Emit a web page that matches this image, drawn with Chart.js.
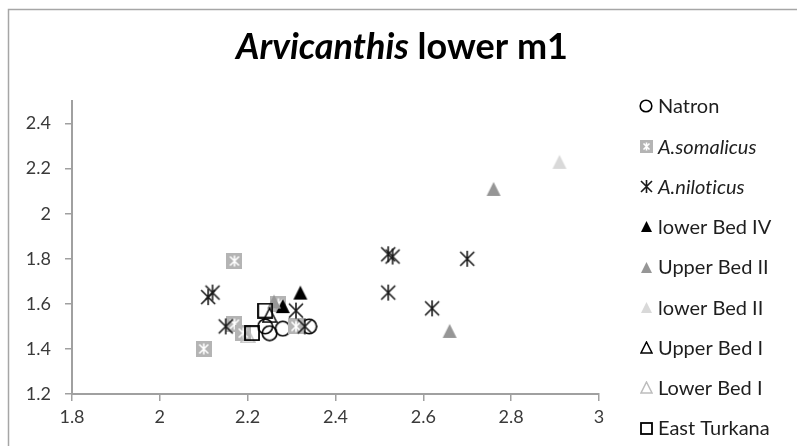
<!DOCTYPE html>
<html>
<head>
<meta charset="utf-8">
<script src="https://cdn.jsdelivr.net/npm/chart.js@4/dist/chart.umd.min.js"></script>
<style>
  html, body { margin: 0; padding: 0; background: #ffffff; }
  canvas { display: block; }
</style>
</head>
<body>
<canvas id="chart" width="797" height="446"></canvas>
<script>
// Lower first molar of Arvicanthis: x / y measurements per sample group
const seriesNames = ['Natron', 'A.somalicus', 'A.niloticus', 'lower Bed IV', 'Upper Bed II',
                     'lower Bed II', 'Upper Bed I', 'Lower Bed I', 'East Turkana'];
const italicNames = ['A.somalicus', 'A.niloticus'];

const natronX       = [2.24, 2.25, 2.28, 2.34];
const natronY       = [1.50, 1.47, 1.49, 1.50];
const somalicusX    = [2.17, 2.10, 2.17, 2.19, 2.27, 2.31];
const somalicusY    = [1.79, 1.40, 1.51, 1.47, 1.60, 1.50];
const niloticusX    = [2.11, 2.12, 2.15, 2.31, 2.33, 2.52, 2.53, 2.70, 2.52, 2.62];
const niloticusY    = [1.63, 1.65, 1.50, 1.57, 1.50, 1.82, 1.81, 1.80, 1.65, 1.58];
const lowerBedIVX   = [2.32, 2.28];
const lowerBedIVY   = [1.65, 1.59];
const upperBedIIX   = [2.76, 2.66, 2.26];
const upperBedIIY   = [2.11, 1.48, 1.61];
const lowerBedIIX   = [2.91];
const lowerBedIIY   = [2.23];
const upperBedIX    = [2.25];
const upperBedIY    = [1.55];
const lowerBedIX    = [2.20];
const lowerBedIY    = [1.46];
const eastTurkanaX  = [2.21, 2.24];
const eastTurkanaY  = [1.47, 1.57];

const xTicks = [1.8, 2, 2.2, 2.4, 2.6, 2.8, 3];
const yTicks = [1.2, 1.4, 1.6, 1.8, 2, 2.2, 2.4];

const FONT = 'Lato, "Open Sans", "Liberation Sans", sans-serif';

// ---- marker images -------------------------------------------------------
function makeCanvas(size) {
  const c = document.createElement('canvas');
  c.width = size; c.height = size;
  return c;
}
function circleMarker(size, stroke) {
  const c = makeCanvas(size), g = c.getContext('2d');
  g.strokeStyle = stroke; g.lineWidth = 1.6;
  g.beginPath(); g.arc(size / 2, size / 2, size / 2 - 1.2, 0, Math.PI * 2); g.stroke();
  return c;
}
function squareMarker(size, stroke) {
  const c = makeCanvas(size), g = c.getContext('2d');
  g.strokeStyle = stroke; g.lineWidth = 1.8;
  g.strokeRect(1, 1, size - 2, size - 2);
  return c;
}
function triangleMarker(size, fill, stroke) {
  const c = makeCanvas(size), g = c.getContext('2d');
  const m = 1;
  g.beginPath();
  g.moveTo(size / 2, m);
  g.lineTo(size - m, size - m);
  g.lineTo(m, size - m);
  g.closePath();
  if (fill) { g.fillStyle = fill; g.fill(); }
  if (stroke) { g.strokeStyle = stroke; g.lineWidth = 1.5; g.lineJoin = 'miter'; g.stroke(); }
  return c;
}
function asteriskLines(g, size, inset) {
  const a = inset, b = size - inset, mid = size / 2;
  g.beginPath();
  g.moveTo(a, a); g.lineTo(b, b);
  g.moveTo(b, a); g.lineTo(a, b);
  g.moveTo(mid, a - 1); g.lineTo(mid, b + 1);
  g.stroke();
}
function asteriskMarker(size, stroke) {
  const c = makeCanvas(size), g = c.getContext('2d');
  g.strokeStyle = stroke; g.lineWidth = 1.6;
  asteriskLines(g, size, 2);
  return c;
}
function boxedAsteriskMarker(size, fill) {
  const c = makeCanvas(size), g = c.getContext('2d');
  g.fillStyle = fill; g.fillRect(0, 0, size, size);
  g.strokeStyle = '#ffffff'; g.lineWidth = 1.6;
  asteriskLines(g, size, 3.5);
  return c;
}

function markerSet(scale) {
  const s = v => Math.round(v * scale);
  return [
    circleMarker(s(17), '#000000'),
    boxedAsteriskMarker(s(16), '#b4b4b4'),
    asteriskMarker(s(18), '#1a1a1a'),
    triangleMarker(s(16), '#000000', null),
    triangleMarker(s(16), '#969696', null),
    triangleMarker(s(16), '#d9d9d9', null),
    triangleMarker(s(16), null, '#000000'),
    triangleMarker(s(16), null, '#bdbdbd'),
    squareMarker(s(16), '#000000')
  ];
}
const plotMarkers = markerSet(1);
const legendMarkers = markerSet(0.82);

const seriesX = [natronX, somalicusX, niloticusX, lowerBedIVX, upperBedIIX,
                 lowerBedIIX, upperBedIX, lowerBedIX, eastTurkanaX];
const seriesY = [natronY, somalicusY, niloticusY, lowerBedIVY, upperBedIIY,
                 lowerBedIIY, upperBedIY, lowerBedIY, eastTurkanaY];

const datasets = seriesNames.map((name, i) => ({
  label: name,
  data: seriesX[i].map((x, k) => ({ x: x, y: seriesY[i][k] })),
  pointStyle: plotMarkers[i],
  pointRadius: 9,
  pointHoverRadius: 9,
  showLine: false,
  order: -i            // later series are painted on top
}));

// ---- frame, title and legend ---------------------------------------------
const decorations = {
  id: 'decorations',
  beforeDraw(chart) {
    const g = chart.ctx;
    g.save();
    g.fillStyle = '#ffffff';
    g.fillRect(0, 0, chart.width, chart.height);
    g.strokeStyle = '#a6a6a6';
    g.lineWidth = 1.5;
    g.beginPath();
    g.moveTo(8.5, chart.height); g.lineTo(8.5, 9.5); g.lineTo(chart.width, 9.5);
    g.stroke();
    g.restore();
  },
  afterDraw(chart) {
    const g = chart.ctx;
    g.save();
    // plain glyphs, no ligatures
    if ('textRendering' in g) g.textRendering = 'optimizeSpeed';
    // title: genus in italics
    const part1 = 'Arvicanthis', part2 = ' lower m1';
    const f1 = 'italic bold 36px ' + FONT, f2 = 'bold 36px ' + FONT;
    g.font = f1; const w1 = g.measureText(part1).width;
    g.font = f2; const w2 = g.measureText(part2).width;
    const tx = 402 - (w1 + w2) / 2;
    const ty = 59;
    g.fillStyle = '#000000';
    g.textBaseline = 'alphabetic';
    g.textAlign = 'left';
    g.font = f1; g.fillText(part1, tx, ty);
    g.font = f2; g.fillText(part2, tx + w1, ty);

    // legend
    g.textBaseline = 'middle';
    g.fillStyle = '#1e1e1e';
    seriesNames.forEach((name, i) => {
      const cy = 106 + i * 40.25;
      const img = legendMarkers[i];
      g.drawImage(img, Math.round(646 - img.width / 2), Math.round(cy - img.height / 2));
      g.font = (italicNames.includes(name) ? 'italic ' : '') + '20px ' + FONT;
      g.fillText(name, 658, cy + 1);
    });
    g.restore();
  }
};

const axisStyle = {
  grid: { drawOnChartArea: false, drawTicks: true, tickLength: 7, color: '#a0a0a0', lineWidth: 1.5 },
  border: { display: true, color: '#a0a0a0', width: 2 },
  ticks: { color: '#3a3a3a', font: { family: FONT, size: 18 } }
};

new Chart(document.getElementById('chart'), {
  type: 'scatter',
  data: { datasets: datasets },
  options: {
    responsive: false,
    animation: false,
    devicePixelRatio: 1,
    layout: { padding: { left: 0, top: 101, right: 198, bottom: 0 } },
    plugins: {
      legend: { display: false },
      title: { display: false },
      tooltip: { enabled: false }
    },
    scales: {
      x: {
        type: 'linear', min: 1.8, max: 3,
        grid: axisStyle.grid, border: axisStyle.border,
        ticks: Object.assign({}, axisStyle.ticks, { padding: 5, maxRotation: 0,
          callback: v => String(Math.round(v * 10) / 10) }),
        afterBuildTicks: s => { s.ticks = xTicks.map(v => ({ value: v })); },
        afterFit: s => { s.height = 52; }
      },
      y: {
        type: 'linear', min: 1.2, max: 2.5,
        grid: axisStyle.grid, border: axisStyle.border,
        ticks: Object.assign({}, axisStyle.ticks, { padding: 14,
          callback: v => String(Math.round(v * 10) / 10) }),
        afterBuildTicks: s => { s.ticks = yTicks.map(v => ({ value: v })); },
        afterFit: s => { s.width = 72; }
      }
    }
  },
  plugins: [decorations]
});
</script>
</body>
</html>
